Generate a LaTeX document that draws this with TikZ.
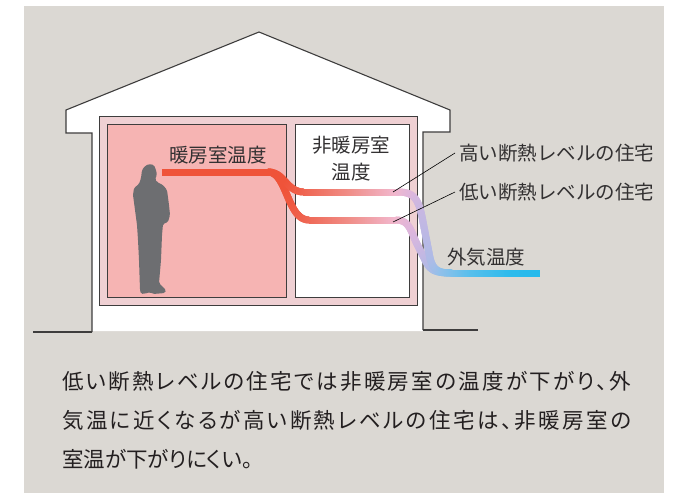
\documentclass[tikz,border=0pt]{standalone}
\usepackage{fontspec}
\newfontfamily\jp{Noto Sans CJK JP}
\newfontfamily\jpp[RawFeature=+palt]{Noto Sans CJK JP}
\usetikzlibrary{decorations.markings}

\definecolor{bggray}{HTML}{DBD8D3}
\definecolor{edgegray}{HTML}{3E3D3D}
\definecolor{framepink}{HTML}{EFD0D3}
\definecolor{roompink}{HTML}{F6B4B3}
\definecolor{person}{HTML}{6D6E71}
\definecolor{labeltext}{HTML}{333132}
\definecolor{bodyink}{HTML}{231F20}
\definecolor{tA}{HTML}{EF5339}
\definecolor{tB}{HTML}{EF6A58}
\definecolor{tC}{HTML}{F08E88}
\definecolor{tD}{HTML}{F1B7CD}
\definecolor{tE}{HTML}{DDB6DD}
\definecolor{tF}{HTML}{BDB8E4}
\definecolor{tG}{HTML}{93C0EA}
\definecolor{tH}{HTML}{58BFEC}
\definecolor{tI}{HTML}{2DBBEC}
\definecolor{tJ}{HTML}{22B9EC}

\makeatletter
% blend two ramp colours for position #1 between #2 and #3
\def\mixcol#1#2#3#4#5{%
  \pgfmathsetmacro\mixp{max(0,min(100,(#3-#1)/(#3-#2)*100))}%
  \colorlet{curcol}{#4!\mixp!#5}}
% warm-to-cold colour ramp as a function of the horizontal position
\def\tempcolorat#1{%
  \colorlet{curcol}{tJ}%
  \ifdim#1pt<550pt \mixcol{#1}{510}{550}{tI}{tJ}\fi
  \ifdim#1pt<510pt \mixcol{#1}{470}{510}{tH}{tI}\fi
  \ifdim#1pt<470pt \mixcol{#1}{440}{470}{tG}{tH}\fi
  \ifdim#1pt<440pt \mixcol{#1}{425}{440}{tF}{tG}\fi
  \ifdim#1pt<425pt \mixcol{#1}{412}{425}{tE}{tF}\fi
  \ifdim#1pt<412pt \mixcol{#1}{395}{412}{tD}{tE}\fi
  \ifdim#1pt<395pt \mixcol{#1}{350}{395}{tC}{tD}\fi
  \ifdim#1pt<350pt \mixcol{#1}{310}{350}{tB}{tC}\fi
  \ifdim#1pt<310pt \mixcol{#1}{285}{310}{tA}{tB}\fi
  \ifdim#1pt<285pt \colorlet{curcol}{tA}\fi}
% one slice of a temperature band
\def\tempslice{%
  \pgfpointtransformed{\pgfpointorigin}%
  \pgfmathsetmacro\curx{\pgf@x}%
  \tempcolorat{\curx}%
  \fill[curcol] (-0.75pt,-3.5pt) rectangle (0.75pt,3.5pt);}

% spread a line of Japanese text evenly over a given width
\newcommand\jspread[2]{\makebox[#1][s]{\jsp@loop#2\@nil}}
\def\jsp@loop#1#2\@nil{#1\ifx\relax#2\relax\else\hfill\jsp@loop#2\@nil\fi}
\makeatother

\tikzset{
  outline/.style={draw=edgegray, line width=1.1pt, line join=miter},
  roombox/.style={draw=edgegray, line width=0.9pt},
  label/.style={inner sep=0pt, text=labeltext, font=\jp\fontsize{19.5}{22}\selectfont},
  bodytext/.style={inner sep=0pt, anchor=west, text=bodyink, font=\jpp\fontsize{21.5}{24}\selectfont},
  leader/.style={draw=black, line width=0.6pt},
  tempband/.style={decorate, decoration={markings,
      mark=between positions 0 and 1 step 0.7pt with {\tempslice}}},
}

\begin{document}
\begin{tikzpicture}[x=1pt, y=-1pt]
  \useasboundingbox (0,0) rectangle (678,493);
  \fill[white] (0,0) rectangle (678,493);
  \fill[bggray] (24,6) rectangle (664,493);

  % house body
  \fill[white] (66,110) -- (259,32) -- (450,110) -- (450,132) -- (423,132)
     -- (423,331) -- (92,331) -- (92,133) -- (66,133) -- cycle;
  \draw[outline] (92,332) -- (92,133) -- (66,133) -- (66,110) -- (259,32)
     -- (450,110) -- (450,132) -- (423,132) -- (423,330);
  \draw[outline] (33,332) -- (92,332);
  \draw[outline] (423,330) -- (478,330);

  % rooms
  \draw[roombox, fill=framepink] (99,116) rectangle (417,305);
  \draw[roombox, fill=roompink] (107,124) rectangle (286,297);
  \draw[roombox, fill=white] (295,124) rectangle (409,297);

  % person
  \fill[person, rounded corners=1.5pt]
    (149,164) -- (154,165) -- (156,170) -- (157,175) -- (155,179) -- (157,182)
    -- (163,185) -- (167,190) -- (169,205) -- (170,215) -- (168,222) -- (163,224)
    -- (162,235) -- (161,260) -- (159,283) -- (163,287) -- (166,290) -- (165,293)
    -- (153,294) -- (150,292) -- (148,293) -- (141,294) -- (140,290) -- (139,260)
    -- (138,240) -- (137,225) -- (135,210) -- (133,195) -- (134,188) -- (139,184)
    -- (141,178) -- (142,170) -- (145,166) -- cycle;

  % temperature curves: poorly insulated (lower) first, well insulated (upper) on top
  \path[tempband] (268,172)
     .. controls (287,172) and (287,220) .. (309,220) -- (396,220)
     .. controls (408,220) and (410,228) .. (416,242) -- (426,262)
     .. controls (431,271) and (436,273) .. (452,273);
  \path[tempband] (163,172) -- (268,172)
     .. controls (285,172) and (286,192) .. (304,192) -- (398,192)
     .. controls (415,192) and (419,200) .. (423,222) -- (430,258)
     .. controls (433,270) and (438,273) .. (452,273) -- (540,273);

  % labels
  \node[label] (heated) at (218,155) {暖房室温度};
  \node[label] (unheatedA) at (351,145) {非暖房室};
  \node[label] (unheatedB) at (351,172) {温度};
  \node[label, anchor=west] (high) at (459,153) {高い断熱レベルの住宅};
  \node[label, anchor=west] (low) at (459,192) {低い断熱レベルの住宅};
  \node[label, anchor=west] (outside) at (447,257) {外気温度};

  % leaders
  \coordinate (highpt) at (393,192);
  \coordinate (lowpt) at (393,222);
  \draw[leader] (highpt) -- ([xshift=-4pt]high.west);
  \draw[leader] (lowpt) -- ([xshift=-4pt]low.west);

  % caption
  \node[bodytext] (cap1) at (62,381) {\jspread{569pt}{低い断熱レベルの住宅では非暖房室の温度が下がり、外}};
  \node[bodytext] (cap2) at (62,420) {\jspread{569pt}{気温に近くなるが高い断熱レベルの住宅は、非暖房室の}};
  \node[bodytext] (cap3) at (62,459) {室温が下がりにくい。};
\end{tikzpicture}
\end{document}
